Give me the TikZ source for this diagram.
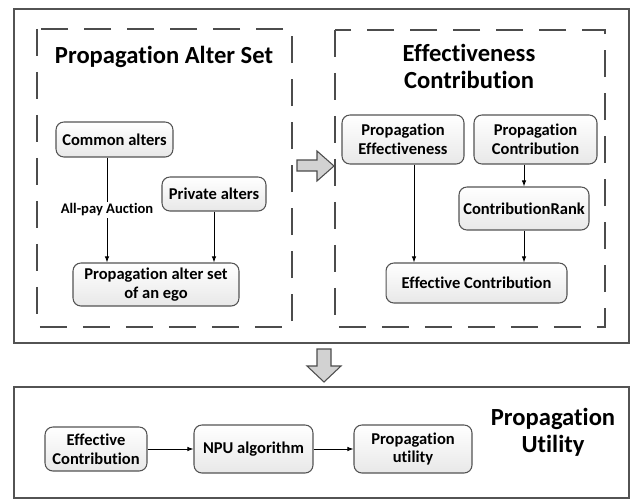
\documentclass[tikz,border=0pt]{standalone}
\usepackage{fontspec}
\setmainfont{Carlito}[Ligatures=NoCommon]
\usetikzlibrary{arrows.meta}
\begin{document}
\begin{tikzpicture}[x=0.02cm,y=-0.02cm,
  altbox/.style={draw=gray!65!black, line width=0.6pt, rounded corners=4.5pt,
    top color=white, bottom color=gray!18, align=center, inner sep=0pt,
    font=\fontsize{9.4}{10.6}\selectfont\bfseries},
  frame/.style={draw=gray!65!black, line width=1pt},
  dashframe/.style={draw=gray!60!black, line width=0.8pt, dash pattern=on 0.54cm off 0.32cm},
  heading/.style={align=center, font=\fontsize{14}{15.4}\selectfont\bfseries},
  link/.style={draw=black, line width=0.5pt, -{Latex[length=3.5pt,width=2.6pt]}},
  bigarrow/.style={draw=gray!60!black, fill=gray!35, line width=0.6pt}]
{
% Fixing the bounding box
\useasboundingbox (0,0) rectangle (634,500);

% Drawing outer frames
\draw [frame] (14,9) rectangle (629,343);
\draw [frame] (14,387) rectangle (629,498);

% Drawing dashed frames
\draw [dashframe] (37,29) rectangle (292,327);
\draw [dashframe] (335,30) rectangle (605,327);

% Headings
\node [heading] (hset) at (164,57) {Propagation Alter Set};
\node [heading] (heff) at (469,66) {Effectiveness\\Contribution};
\node [heading] (hutil) at (553,432) {Propagation\\Utility};

% Nodes of the alter set
\node [altbox, minimum width=2.34cm, minimum height=0.70cm] (common) at (114.5,139.5) {Common alters};
\node [altbox, minimum width=2.08cm, minimum height=0.68cm] (private) at (214,194) {Private alters};
\node [altbox, minimum width=3.32cm, minimum height=0.86cm] (egoset) at (156,284.5) {Propagation alter set\\of an ego};

% Nodes of effectiveness and contribution
\node [altbox, minimum width=2.44cm, minimum height=0.98cm] (peff) at (403,139.5) {Propagation\\Effectiveness};
\node [altbox, minimum width=2.46cm, minimum height=0.98cm] (pcontr) at (535.5,139.5) {Propagation\\Contribution};
\node [altbox, minimum width=2.60cm, minimum height=0.86cm] (crank) at (524,208.5) {ContributionRank};
\node [altbox, minimum width=3.62cm, minimum height=0.80cm] (effcontr) at (476.5,283) {Effective Contribution};

% Nodes of propagation utility
\node [altbox, minimum width=2.04cm, minimum height=0.88cm] (ecin) at (96,449) {Effective\\Contribution};
\node [altbox, minimum width=2.38cm, minimum height=0.96cm] (npu) at (253.5,449) {NPU algorithm};
\node [altbox, minimum width=2.36cm, minimum height=0.96cm] (putil) at (413,449) {Propagation\\utility};

% Drawing connectors
\draw [link] ([xshift=-0.15cm]common.south) -- ([xshift=-0.15cm]common.south |- egoset.north)
  node [pos=0.5, fill=white, inner sep=1pt, font=\fontsize{8.3}{9}\selectfont\bfseries] (auction) {All-pay Auction};
\draw [link] (private.south) -- (private.south |- egoset.north);
\draw [link] ([xshift=0.22cm]peff.south) -- ([xshift=0.22cm]peff.south |- effcontr.north);
\draw [link] (crank.north |- pcontr.south) -- (crank.north);
\draw [link] (crank.south) -- (crank.south |- effcontr.north);
\draw [link] (ecin) -- (npu);
\draw [link] (npu) -- (putil);

% Drawing block arrows
\draw [bigarrow] (297,160) -- (317,160) -- (317,151) -- (334,166) -- (317,181) -- (317,171) -- (297,171) -- cycle;
\draw [bigarrow] (317,349) -- (331,349) -- (331,366) -- (341,366) -- (324,382) -- (307,366) -- (317,366) -- cycle;
}
\end{tikzpicture}
\end{document}
